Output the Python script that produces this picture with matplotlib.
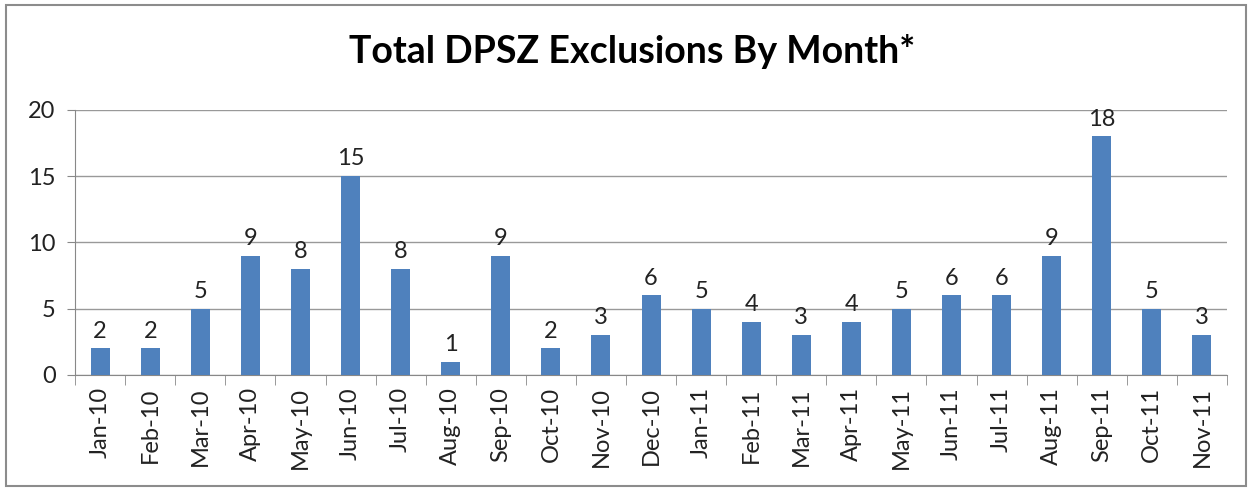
import matplotlib.pyplot as plt
from matplotlib.patches import Rectangle

months = ["Jan-10", "Feb-10", "Mar-10", "Apr-10", "May-10", "Jun-10", "Jul-10",
          "Aug-10", "Sep-10", "Oct-10", "Nov-10", "Dec-10", "Jan-11", "Feb-11",
          "Mar-11", "Apr-11", "May-11", "Jun-11", "Jul-11", "Aug-11", "Sep-11",
          "Oct-11", "Nov-11"]
exclusions = [2, 2, 5, 9, 8, 15, 8, 1, 9, 2, 3, 6, 5, 4, 3, 4, 5, 6, 6, 9, 18, 5, 3]
y_ticks = [0, 5, 10, 15, 20]

plt.rcParams["font.family"] = ["Lato", "DejaVu Sans"]

fig = plt.figure(figsize=(12.52, 4.9), dpi=100)
ax = fig.add_axes([0.060, 0.235, 0.920, 0.541])

# chart frame
fig.patches.append(Rectangle((0.005, 0.008), 0.990, 0.982, transform=fig.transFigure,
                             fill=False, edgecolor="#8c8c8c", linewidth=1.5))

x = range(len(months))
ax.bar(x, exclusions, width=0.38, color="#4F81BD", zorder=3)

for i, v in enumerate(exclusions):
    ax.text(i, v + 0.5, str(v), ha="center", va="bottom", fontsize=17, color="#222222")

ax.set_xlim(-0.5, len(months) - 0.5)
ax.set_ylim(0, 20)
ax.set_yticks(y_ticks)
ax.set_yticklabels([str(t) for t in y_ticks], fontsize=17, color="#222222")
ax.set_xticks(x)
ax.set_xticklabels(months, rotation=90, fontsize=17, color="#222222")
ax.tick_params(axis="x", length=0, pad=9)
ax.set_xticks([i - 0.5 for i in range(len(months) + 1)], minor=True)
ax.tick_params(axis="x", which="minor", length=7, color="#888888")
ax.tick_params(axis="y", length=6, color="#888888", pad=8)

ax.grid(axis="y", color="#999999", linewidth=1, zorder=0)
for side in ["top", "right"]:
    ax.spines[side].set_visible(False)
ax.spines["left"].set_color("#888888")
ax.spines["bottom"].set_color("#888888")

fig.text(0.505, 0.895, "Total DPSZ Exclusions By Month*", ha="center", va="center",
         fontsize=27, fontweight="bold")

fig.savefig("out.png", dpi=100)
